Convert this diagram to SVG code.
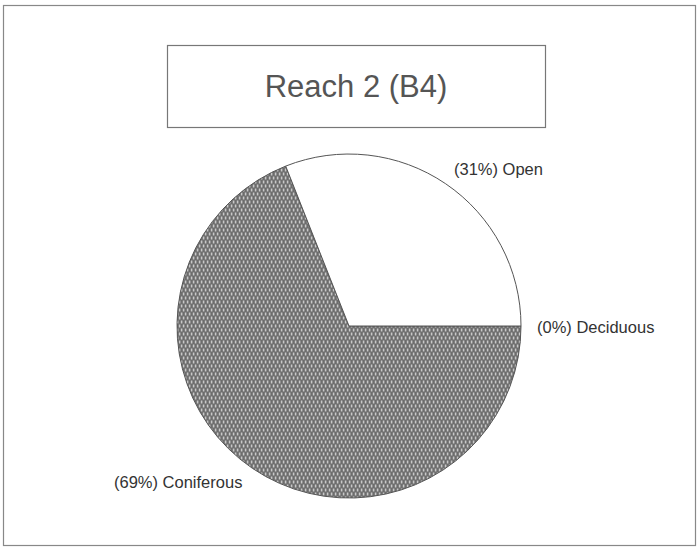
<svg xmlns="http://www.w3.org/2000/svg" width="698" height="550" viewBox="0 0 698 550">
<style>
.frame{fill:none;stroke:#888;stroke-width:1.2}
.lbl{font-family:"Liberation Sans",Arial,sans-serif;font-size:16.5px;fill:#333}
.title{font-family:"Liberation Sans",Arial,sans-serif;font-size:31px;fill:#555}
.slice{stroke:#555;stroke-width:1}
</style>
<defs>
<pattern id="hatch" width="4" height="8" patternUnits="userSpaceOnUse">
<rect width="4" height="8" fill="#6c6c6c"/>
<rect x="0.8" y="0.5" width="1.6" height="3" fill="#c8c8c8"/>
<rect x="2.8" y="4.5" width="1.2" height="3" fill="#c8c8c8"/>
<rect x="0" y="4.5" width="0.4" height="3" fill="#c8c8c8"/>
</pattern>
</defs>
<rect width="698" height="550" fill="#fff"/>
<rect class="frame" x="3.5" y="5.5" width="692" height="540"/>
<g id="title">
<rect x="167.5" y="45.5" width="378" height="82" fill="#fff" stroke="#777" stroke-width="1.2"/>
<text class="title" x="356" y="97" text-anchor="middle">Reach 2 (B4)</text>
</g>
<g id="pie">
<path id="slice-coniferous" class="slice" d="M349,326 L285.7,166.1 A172,172 0 1 0 521,326 Z" fill="url(#hatch)"/>
<path id="slice-open" class="slice" d="M349,326 L521,326 A172,172 0 0 0 285.7,166.1 Z" fill="#fff"/>
</g>
<g id="labels">
<text class="lbl" x="454" y="175">(31%) Open</text>
<text class="lbl" x="537" y="333">(0%) Deciduous</text>
<text class="lbl" x="114" y="488">(69%) Coniferous</text>
</g>
</svg>
